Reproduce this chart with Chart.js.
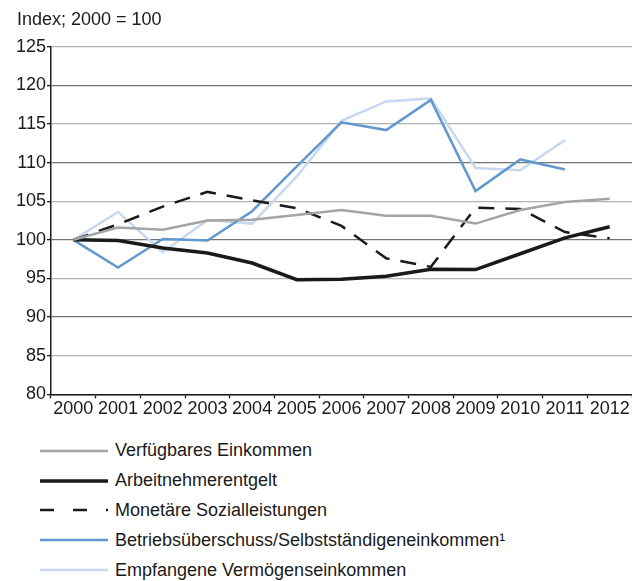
<!DOCTYPE html>
<html>
<head>
<meta charset="utf-8">
<script src="https://cdn.jsdelivr.net/npm/chart.js@4/dist/chart.umd.min.js"></script>
<style>
    body { margin: 0; background: #fff; font-family: "Liberation Sans", Arial, sans-serif; }
    #wrap { position: relative; width: 632px; height: 581px; }
    #box { position: absolute; left: 0; top: 0; width: 632px; height: 420px; }
    #legend { position: absolute; left: 40px; top: 436px; }
    .row { display: flex; align-items: center; height: 29.8px; font-size: 18px; color: #1a1a1a; }
    .row svg { margin-right: 7px; }
</style>
</head>
<body>
<div id="wrap">
    <div id="box"><canvas id="incomeChart"></canvas></div>
    <div id="legend"></div>
</div>
<script>
const years = ["2000", "2001", "2002", "2003", "2004", "2005", "2006", "2007", "2008", "2009", "2010", "2011", "2012"];

const verfuegbar = [100, 101.6, 101.3, 102.5, 102.6, 103.2, 103.85, 103.1, 103.1, 102.1, 103.85, 104.9, 105.3];
const arbeitnehmer = [100, 99.9, 98.95, 98.3, 97.0, 94.85, 94.9, 95.3, 96.2, 96.15, 98.2, 100.25, 101.7];
const sozial = [100, 102.0, 104.3, 106.2, 105.1, 104.1, 101.8, 97.6, 96.5, 104.15, 104.0, 101.0, 100.2];
const betrieb = [100, 96.4, 100.1, 99.9, 103.7, 109.5, 115.2, 114.2, 118.1, 106.3, 110.4, 109.1, null];
const vermoegen = [100, 103.6, 98.4, 102.55, 102.1, 108.2, 115.4, 117.9, 118.3, 109.3, 109.0, 112.9, null];

const series = [
    { label: "Verfügbares Einkommen", data: verfuegbar, color: "#a5a5a5", width: 2.5, dash: [] },
    { label: "Arbeitnehmerentgelt", data: arbeitnehmer, color: "#1a1a1a", width: 3.5, dash: [] },
    { label: "Monetäre Sozialleistungen", data: sozial, color: "#1a1a1a", width: 2.5, dash: [16, 11] },
    { label: "Betriebsüberschuss/Selbstständigeneinkommen¹", data: betrieb, color: "#6398cf", width: 2.5, dash: [] },
    { label: "Empfangene Vermögenseinkommen", data: vermoegen, color: "#c6d9f0", width: 2.5, dash: [] },
];

const font = { family: "'Liberation Sans', Arial, sans-serif", size: 18 };

new Chart(document.getElementById("incomeChart"), {
    type: "line",
    data: {
        labels: years,
        datasets: series.map((s) => ({
            label: s.label,
            data: s.data,
            borderColor: s.color,
            backgroundColor: s.color,
            borderWidth: s.width,
            borderDash: s.dash,
            pointRadius: 0,
            tension: 0,
            spanGaps: false,
        })),
    },
    options: {
        responsive: true,
        maintainAspectRatio: false,
        animation: false,
        layout: { padding: { left: 17, right: 0, top: 9, bottom: 0 } },
        plugins: {
            legend: { display: false },
            tooltip: { enabled: false },
            title: {
                display: true,
                text: "Index; 2000 = 100",
                align: "start",
                color: "#1a1a1a",
                font: { ...font, weight: "normal" },
                padding: { top: 0, bottom: 16 },
            },
        },
        scales: {
            x: {
                offset: true,
                grid: {
                    offset: true,
                    drawOnChartArea: false,
                    tickLength: 4,
                    tickColor: "#1a1a1a",
                    tickWidth: 1.3,
                },
                border: { color: "#1a1a1a", width: 1.5 },
                ticks: {
                    color: "#1a1a1a",
                    font,
                    padding: 0,
                    maxRotation: 0,
                    autoSkip: false,
                },
            },
            y: {
                min: 80,
                max: 125,
                afterFit: (scale) => { scale.width = 34; },
                grid: {
                    color: (ctx) => (ctx.tick && ctx.tick.value % 10 === 0 ? "#747474" : "#b2b2b2"),
                    lineWidth: 1.3,
                    tickLength: 4,
                    tickColor: "#1a1a1a",
                },
                border: { color: "#1a1a1a", width: 1.5 },
                ticks: {
                    stepSize: 5,
                    color: "#1a1a1a",
                    font,
                    padding: 1,
                },
            },
        },
    },
});

const legend = document.getElementById("legend");
series.forEach((s) => {
    const row = document.createElement("div");
    row.className = "row";
    const dash = s.dash.length ? ' stroke-dasharray="14,19"' : "";
    row.innerHTML =
        '<svg width="68" height="8"><line x1="0" y1="4" x2="68" y2="4" stroke="' + s.color +
        '" stroke-width="' + s.width + '"' + dash + '/></svg><span>' + s.label + "</span>";
    legend.appendChild(row);
});
</script>
</body>
</html>
